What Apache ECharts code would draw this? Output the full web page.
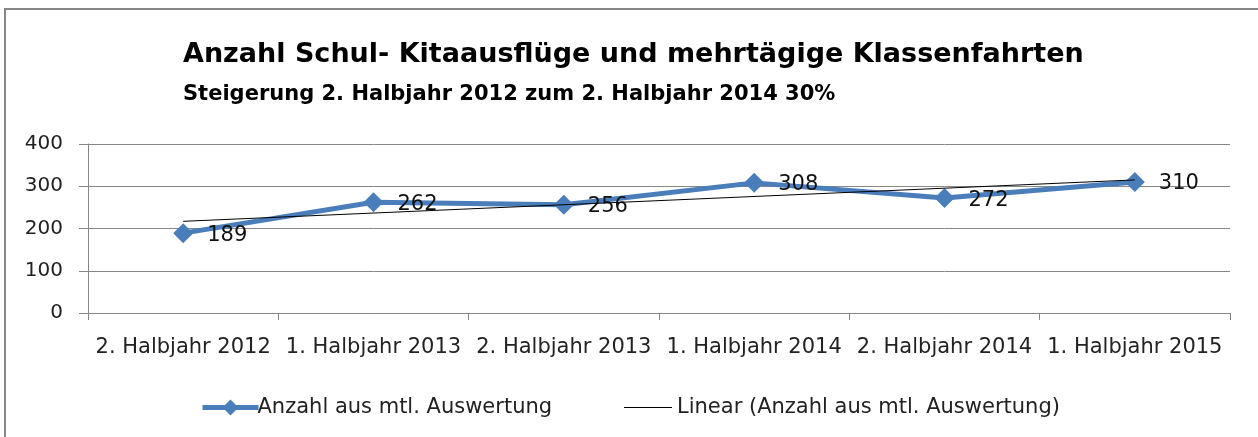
<!DOCTYPE html>
<html>
<head>
<meta charset="utf-8">
<script src="https://cdn.jsdelivr.net/npm/echarts@6/dist/echarts.min.js"></script>
<style>
  html, body { margin: 0; padding: 0; background: #fff; }
  #main { width: 1258px; height: 437px; }
</style>
</head>
<body>
<div id="main"></div>
<script>
// Kategorien und Werte
var categories = ['2. Halbjahr 2012', '1. Halbjahr 2013', '2. Halbjahr 2013', '1. Halbjahr 2014', '2. Halbjahr 2014', '1. Halbjahr 2015'];
var anzahl = [189, 262, 256, 308, 272, 310];
// Trendlinie (Start- und Endwert aus dem Bild gelesen)
var trend = [217, null, null, null, null, 315];
var yTicks = [0, 100, 200, 300, 400];

var chartDom = document.getElementById('main');
var myChart = echarts.init(chartDom);
var font = 'DejaVu Sans';
var option;

option = {
    animation: false,
    textStyle: { fontFamily: font },
    title: {
        left: 178,
        top: 36,
        text: 'Anzahl Schul- Kitaausflüge und mehrtägige Klassenfahrten',
        subtext: 'Steigerung 2. Halbjahr 2012 zum 2. Halbjahr 2014 30%',
        itemGap: 16,
        textStyle: { fontFamily: font, fontSize: 27, fontWeight: 'bold', color: '#000' },
        subtextStyle: { fontFamily: font, fontSize: 21, fontWeight: 'bold', color: '#000' }
    },
    graphic: [{
        type: 'rect',
        shape: { x: 5, y: 9, width: 1300, height: 500 },
        style: { fill: 'none', stroke: '#878787', lineWidth: 2 },
        silent: true
    }],
    legend: [{
        left: 195,
        top: 392,
        data: ['Anzahl aus mtl. Auswertung'],
        itemWidth: 56,
        itemHeight: 20,
        lineStyle: { width: 5 },
        textStyle: { fontFamily: font, fontSize: 21, color: '#222', padding: [0, 0, 0, -6] }
    }, {
        left: 619,
        top: 392,
        data: [{ name: 'Linear (Anzahl aus mtl. Auswertung)', icon: 'rect' }],
        itemWidth: 48,
        itemHeight: 1,
        textStyle: { fontFamily: font, fontSize: 21, color: '#222' }
    }],
    grid: {
        left: 88,
        right: 28,
        top: 144,
        bottom: 124
    },
    xAxis: {
        type: 'category',
        data: categories,
        boundaryGap: true,
        axisLine: { lineStyle: { color: '#878787', width: 1 } },
        axisTick: { show: true, length: 7, interval: 0, lineStyle: { color: '#878787' } },
        axisLabel: { color: '#222', fontSize: 21, margin: 24, interval: 0, fontFamily: font }
    },
    yAxis: {
        type: 'value',
        min: yTicks[0],
        max: yTicks[yTicks.length - 1],
        interval: 100,
        axisLine: { show: true, lineStyle: { color: '#878787' } },
        axisTick: { show: true, length: 9, lineStyle: { color: '#878787' } },
        axisLabel: { color: '#222', fontSize: 20, margin: 25, fontFamily: font },
        splitLine: { lineStyle: { color: '#878787' } }
    },
    series: [{
        name: 'Anzahl aus mtl. Auswertung',
        type: 'line',
        data: anzahl,
        symbol: 'diamond',
        symbolSize: 20,
        z: 3,
        itemStyle: { color: '#4a7ebb' },
        lineStyle: { color: '#4a7ebb', width: 5 },
        label: {
            show: true,
            position: 'right',
            distance: 14,
            offset: [0, 2],
            color: '#111',
            fontSize: 21,
            fontFamily: font
        }
    }, {
        name: 'Linear (Anzahl aus mtl. Auswertung)',
        type: 'line',
        data: trend,
        connectNulls: true,
        showSymbol: false,
        symbol: 'none',
        z: 4,
        itemStyle: { color: '#000' },
        lineStyle: { color: '#000', width: 1 }
    }]
};

option && myChart.setOption(option);
window.addEventListener('resize', function () {
    myChart.resize();
});
</script>
</body>
</html>
